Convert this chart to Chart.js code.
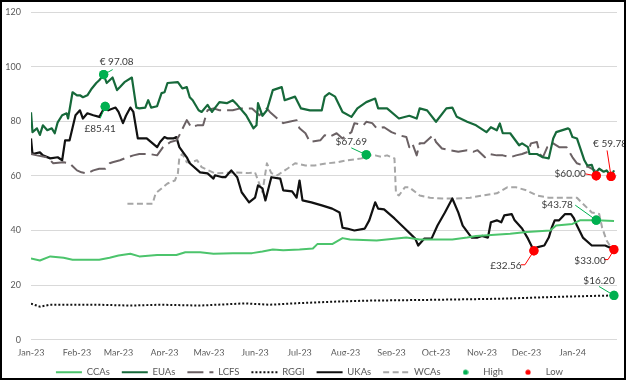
<!DOCTYPE html>
<html><head><meta charset="utf-8">
<script src="https://cdn.jsdelivr.net/npm/chart.js@4"></script>
<style>
html,body{margin:0;padding:0;background:#fff;}
#wrap{position:relative;width:626px;height:380px;box-sizing:border-box;border:2px solid #000;background:#fff;}
#c{display:block;}
</style></head><body>
<div id="wrap"><canvas id="c" width="622" height="376"></canvas></div>
<script>
// ---- tick labels (x values are days since 1 Jan 2023) ----
const monthLabels = ['Jan-23','Feb-23','Mar-23','Apr-23','May-23','Jun-23','Jul-23','Aug-23','Sep-23','Oct-23','Nov-23','Dec-23','Jan-24'];
const monthStarts = [0,31,59,90,120,151,181,212,243,273,304,334,365];

// ---- series ----
const ccaDays = [0,6,13,22,28,38,46,53,59,67,73,85,98,104,114,123,136,149,156,163,170,181,190,193,203,210,215,233,253,262,284,294,300,323,334,350,354,365,370,381,393];
const ccaValues = [29.7,29,30.5,30,29.3,29.3,29.3,30,30.8,31.5,30.5,31,31,32,32,31.5,31.7,31.7,32.3,33,32.8,33,33.4,35,35,37.2,36.7,36.3,37.4,36.7,36.7,37.4,38,38.8,39.4,40,41.8,42.4,43.7,43.78,43.5];

const euaDays = [0,1,4,6,8,11,14,16,18,21,24,25,28,31,33,35,38,41,44,46,49,51,55,58,60,63,68,71,73,77,79,81,85,88,90,92,99,102,105,107,109,113,115,119,122,127,132,136,139,145,150,152,153,156,159,163,169,171,178,182,188,196,198,201,205,210,216,220,226,232,234,240,248,255,260,262,267,273,280,284,287,294,300,307,310,314,316,318,323,329,331,335,336,341,345,349,352,354,362,363,365,368,370,373,375,378,380,383,386,388,391,393];
const euaValues = [83.3,76,77.4,75,78.5,76.7,77.4,75.6,79.6,82.2,82.9,81,90.6,89.5,89.5,88.8,89.5,92,94,95,97.08,94,96,91.4,92.5,94.3,96,85,84.7,85,87.7,85,85.5,90.3,90.6,94,94.3,92,92.5,88.8,87.7,84,83.4,86,83.4,87,86.6,87.7,86,82.2,77.4,78.5,86.6,82,84,91.4,92.5,87.7,89,84.7,84,84,89,90.3,89,83.4,81.6,84.7,87,88.3,84.7,84.7,81,82,81,84.7,84,79.8,84.7,85,81.6,79.8,78.5,76,77.8,76.7,79.2,75.6,75.6,71.2,71.9,70.5,68,68,66.8,66.4,73.7,76,77.4,77,74.2,73.7,70.5,65.7,63.8,64,60.8,62.6,61.5,62,59.78,62];

const lcfsDays = [0,4,11,15,22,26,31,34,38,42,46,50,53,55,60,65,69,73,80,85,89,94,98,100,105,108,112,116,119,123,127,136,141,149,154,159,161,166,170,174,179,181,185,188,195,198,201,206,210,216,218,224,226,230,233,238,243,248,253,255,257,260,262,265,271,273,277,282,288,294,298,301,306,309,314,318,323,327,331,335,337,341,343,345,348,352,356,361,365,368,372,376,380,381];
const lcfsValues = [68,67.5,66.8,64.6,65,64.6,62,61.3,60.9,62,62.6,62.6,64.6,65,65.7,66.8,67.5,68,68,67.5,70.5,72.4,73,74.9,80.4,77.8,78.5,78.5,84,84.7,84,84,84.7,84.7,82.2,84.7,83.4,81,79.3,79.8,80.4,77.4,75.6,72.4,73,74.9,74.2,75.6,73.7,76,79.3,78.5,79.8,79.3,77.4,77.8,76,74.9,74.2,70.5,71.9,67.5,71.9,71.9,74.9,72.4,70,69.4,68.8,69.4,68.8,69.4,66.8,68,67.5,67.5,66.8,67.5,68,68.8,71.9,72.4,68,66.8,70.5,71.9,70.5,70.5,66.8,64.6,63.8,63.2,62,60];

const rggiDays = [0,6,13,46,67,87,114,144,161,181,203,226,271,316,361,393];
const rggiValues = [13.2,12.1,12.8,12.8,12.5,12.8,12.5,13.3,12.8,13.4,13.9,14.3,14.6,15,15.8,16.2];

const ukaDays = [0,1,6,8,13,18,21,23,26,30,33,35,38,42,46,50,52,57,59,62,64,67,69,72,78,82,85,87,90,92,96,98,100,105,107,114,119,123,124,129,131,135,139,142,147,151,153,156,158,162,168,170,176,179,181,183,189,196,203,208,210,213,218,225,228,232,234,238,245,252,259,261,265,270,274,279,284,288,291,297,301,304,308,310,314,317,319,324,326,331,335,339,341,346,349,351,353,356,360,364,366,368,372,378,382,387,390,393];
const ukaValues = [73.7,68,68.6,67.5,66.4,66.8,65.7,73,73,82.2,84,81,82.9,82.2,81.6,85.41,84,85,83.4,79.3,82,85,83.4,73.7,73.7,71.9,70.5,72.4,74.2,73.7,73.7,74.2,70.5,66.8,64.6,61.3,60.9,59,60.2,59.5,59.5,62,59.5,54,50.3,52,56.5,55.4,51,59.5,59,54.7,54.3,52,58.3,51,50.3,49.2,48,46.6,41,40.7,40,40.7,43.7,50.3,48,47.7,44.4,40.7,37,34.5,37,37,41.8,46.6,51.7,46.6,41.8,37.4,37.4,38,37.4,43,43.7,43,45.5,46,43.7,40.7,37,32.56,33.8,34.5,37.4,41,43.7,43.7,46,46,44.4,41.8,37.4,34.5,34.5,34.5,33.8,33.8];

const wcaDays = [65,82,84,88,92,97,99,100,102,105,108,112,115,124,137,146,151,156,159,162,166,173,178,185,191,200,207,213,223,226,232,236,240,245,246,248,252,255,262,269,277,287,296,304,314,321,327,334,341,349,368,372,378,383,385,388,391,393];
const wcaValues = [49.8,49.8,53.6,55.4,57.2,58.3,60.9,66.8,68,65,65,65.7,63.2,60.9,61.3,61,61.3,54,64.6,61,60.2,62.7,64.6,63.8,63.8,64.6,65,65.7,66.4,67.69,67.5,67,67.5,66.4,53.6,52.8,55.8,55.8,52.8,52,51.7,51.7,52,52.8,53.6,55.8,55.8,54.7,52.8,52,52,49.8,46.6,46,41,36.3,33.8,33];

// ---- highs and lows ----
const highDays = [49,50,226,381,393];
const highValues = [97.08,85.41,67.69,43.78,16.20];
const highTexts = ['€ 97.08','£85.41','$67.69','$43.78','$16.20'];
const lowDays = [391,381,339,393];
const lowValues = [59.78,60.00,32.56,33.00];
const lowTexts = ['€ 59.78','$60.00','£32.56','$33.00'];

// label placement (pixel offsets from the marker) – styling only
const highNotes = [
  {dx:13, dy:-13, path:[[0,0],[9,-5]]},
  {dx:-5, dy:22, path:[[0,0],[-5,12]]},
  {dx:-15, dy:-13, path:[[0,0],[-15,-7]]},
  {dx:-39, dy:-15, path:[[0,0],[-21,-15]]},
  {dx:-15, dy:-15, path:[[0,0],[-15,-9]]}
];
const lowNotes = [
  {dx:-1, dy:-33, path:[[0,0],[-4,-26]]},
  {dx:-26, dy:-2, path:[[0,0],[-11,-2]]},
  {dx:-28, dy:15, path:[[0,0],[-9,14],[-13,14]]},
  {dx:-24, dy:11, path:[[0,0],[-6,10],[-10,10]]}
];

const pts = (d, v) => d.map((x, i) => ({x, y: v[i]}));
const HIGH = '#00b050', LOW = '#ff0000';

function makeDot(color) {
  const c = document.createElement('canvas');
  c.width = 6; c.height = 6;
  const g = c.getContext('2d');
  g.fillStyle = color; g.beginPath(); g.arc(3, 3, 2.6, 0, Math.PI * 2); g.fill();
  return c;
}
const dotImgs = {High: makeDot(HIGH), Low: makeDot(LOW)};

const notePlugin = {
  id: 'notes',
  afterDatasetsDraw(chart) {
    const {ctx, scales: {x, y}} = chart;
    const draw = (days, vals, texts, notes, color) => {
      days.forEach((d, i) => {
        const px = x.getPixelForValue(d), py = y.getPixelForValue(vals[i]);
        const n = notes[i];
        ctx.save();
        ctx.strokeStyle = color; ctx.lineWidth = 1;
        ctx.beginPath();
        n.path.forEach(([a, b], k) => k ? ctx.lineTo(px + a, py + b) : ctx.moveTo(px + a, py + b));
        ctx.stroke();
        ctx.fillStyle = color; ctx.beginPath(); ctx.arc(px, py, 4.6, 0, Math.PI * 2); ctx.fill();
        ctx.fillStyle = '#3a3a3a'; ctx.font = '10px Lato';
        ctx.textAlign = 'center'; ctx.textBaseline = 'middle';
        ctx.fillText(texts[i], px + n.dx, py + n.dy);
        ctx.restore();
      });
    };
    draw(highDays, highValues, highTexts, highNotes, HIGH);
    draw(lowDays, lowValues, lowTexts, lowNotes, LOW);
  }
};

const tickFont = {family: 'Lato', size: 9};
const tickColor = '#595959';

new Chart(document.getElementById('c'), {
  type: 'line',
  data: {
    datasets: [
      {label: 'CCAs', data: pts(ccaDays, ccaValues), borderColor: '#4cc46c', borderWidth: 2},
      {label: 'EUAs', data: pts(euaDays, euaValues), borderColor: '#16693a', borderWidth: 2.2},
      {label: 'LCFS', data: pts(lcfsDays, lcfsValues), borderColor: '#6b6164', borderWidth: 2, borderDash: [16,6]},
      {label: 'RGGI', data: pts(rggiDays, rggiValues), borderColor: '#111111', borderWidth: 2, borderDash: [2,2]},
      {label: 'UKAs', data: pts(ukaDays, ukaValues), borderColor: '#111111', borderWidth: 2.2},
      {label: 'WCAs', data: pts(wcaDays, wcaValues), borderColor: '#a6a6a6', borderWidth: 2, borderDash: [6,3.5]},
      {label: 'High', data: pts(highDays, highValues), showLine: false, borderColor: HIGH, pointBackgroundColor: HIGH, pointBorderWidth: 0, pointRadius: 4.6, order: -1},
      {label: 'Low', data: pts(lowDays, lowValues), showLine: false, borderColor: LOW, pointBackgroundColor: LOW, pointBorderWidth: 0, pointRadius: 4.6, order: -1}
    ]
  },
  options: {
    responsive: false,
    animation: false,
    devicePixelRatio: 1,
    layout: {padding: {left: 0, right: 7, top: 10, bottom: -9}},
    elements: {point: {radius: 0}, line: {tension: 0, borderJoinStyle: 'round', fill: false}},
    scales: {
      x: {
        type: 'linear', min: 0, max: 395,
        grid: {display: false, drawTicks: false},
        border: {display: false},
        afterBuildTicks: (a) => { a.ticks = monthStarts.map(v => ({value: v})); },
        afterFit: (s) => { s.height = s.height - 11; },
        ticks: {autoSkip: false, maxRotation: 0, padding: 8, color: tickColor, font: tickFont,
          callback: (v) => monthLabels[monthStarts.indexOf(v)]}
      },
      y: {
        min: 0, max: 120,
        grid: {color: '#d9d9d9', drawTicks: true, tickLength: 10, tickColor: 'rgba(0,0,0,0)'},
        border: {display: false},
        ticks: {stepSize: 20, padding: 0, color: tickColor, font: tickFont},
        afterFit: (s) => { s.width = 29; }
      }
    },
    plugins: {
      tooltip: {enabled: false},
      legend: {
        position: 'bottom',
        labels: {
          usePointStyle: true, pointStyleWidth: 26, padding: 12,
          color: tickColor, font: {family: 'Lato', size: 9.5},
          generateLabels: (chart) => chart.data.datasets.map((ds, i) => ({
            text: ds.label,
            fillStyle: ds.borderColor,
            strokeStyle: ds.borderColor,
            lineWidth: ds.showLine === false ? 0 : ds.borderWidth,
            lineDash: ds.borderDash || [],
            lineCap: 'butt',
            pointStyle: ds.showLine === false ? dotImgs[ds.label] : 'line',
            fontColor: tickColor,
            hidden: false,
            datasetIndex: i
          }))
        }
      }
    }
  },
  plugins: [notePlugin]
});
</script>
</body></html>
